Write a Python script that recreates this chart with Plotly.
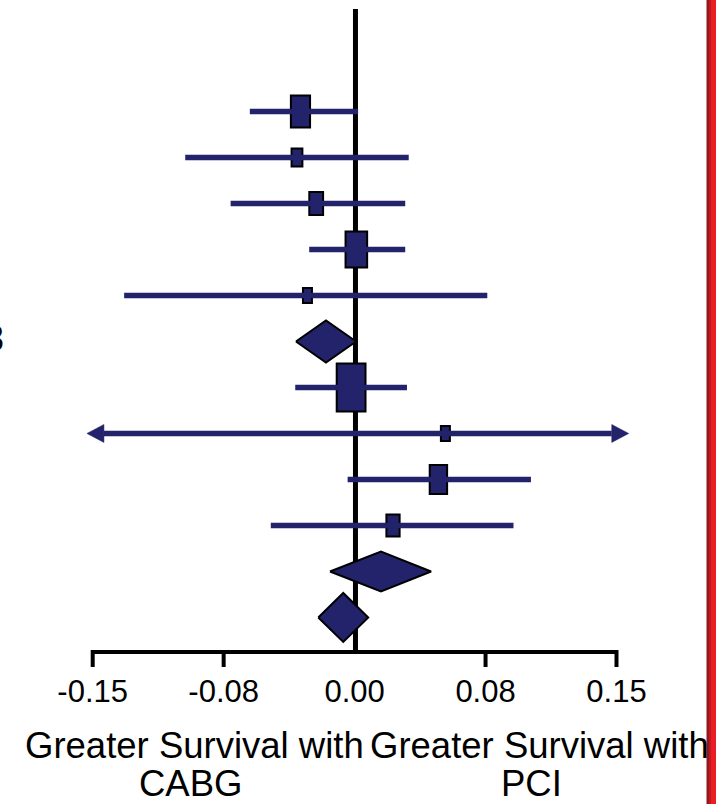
import plotly.graph_objects as go

# ---------------- data ----------------
# individual studies: risk difference in survival (PCI - CABG) with 95% CI
study_rows = [1, 2, 3, 4, 5, 7, 8, 9, 10]
study_est = [-0.031, -0.033, -0.022, 0.001, -0.027, -0.002, 0.052, 0.048, 0.022]
study_lo = [-0.060, -0.097, -0.071, -0.026, -0.132, -0.034, -0.180, -0.004, -0.048]
study_hi = [0.002, 0.031, 0.029, 0.029, 0.076, 0.030, 0.190, 0.101, 0.091]
study_weight = [14.1, 4.5, 7.3, 17.9, 3.1, 31.8, 3.1, 11.6, 6.7]  # % weight

# pooled estimates (diamonds)
pooled_rows = [6, 11, 12]
pooled_est = [-0.0164, 0.0151, -0.0065]
pooled_lo = [-0.0336, -0.0141, -0.0208]
pooled_hi = [0.0008, 0.0438, 0.0078]

tick_vals = [-0.15, -0.075, 0.0, 0.075, 0.15]
tick_text = ["-0.15", "-0.08", "0.00", "0.08", "0.15"]

label_left = ["Greater Survival with", "CABG"]
label_right = ["Greater Survival with", "PCI"]
edge_label = "3"

# ---------------- geometry / style ----------------
W, H = 716, 804
PLOT_H = 652                       # plot area height in px (axis line at bottom)
X_ZERO_PX, X_PX_PER_UNIT = 354.6, 1746.0
ROW0_PX, ROW_PX = 65.46, 46.0      # pixel = ROW0_PX + ROW_PX * row
DISPLAY_LIM = (-0.1533, 0.157)     # CIs beyond this are drawn as arrows

NAVY = "#23236b"
FONT = "Liberation Sans, Arial, sans-serif"

dx = 1.0 / X_PX_PER_UNIT           # data units per px (x)
dy = 1.0 / ROW_PX                  # rows per px (y)
x_range = [(0 - X_ZERO_PX) * dx, (W - X_ZERO_PX) * dx]
y_range = [(PLOT_H - ROW0_PX) / ROW_PX, (0 - ROW0_PX) / ROW_PX]


def ypaper(px):
    return 1 - px / PLOT_H


fig = go.Figure()

# confidence interval lines (clipped to the display window)
cx, cy = [], []
arrows = []
ARROW_LEN = 17 * dx
for r, lo, hi in zip(study_rows, study_lo, study_hi):
    a, b = lo, hi
    if lo < DISPLAY_LIM[0]:
        a = DISPLAY_LIM[0] + ARROW_LEN
        arrows.append((DISPLAY_LIM[0], a, r))
    if hi > DISPLAY_LIM[1]:
        b = DISPLAY_LIM[1] - ARROW_LEN
        arrows.append((DISPLAY_LIM[1], b, r))
    cx += [a, b, None]
    cy += [r, r, None]
fig.add_trace(go.Scatter(x=cx, y=cy, mode="lines",
                         line=dict(color=NAVY, width=5.5), hoverinfo="skip"))

# arrowheads for truncated intervals
for tip, base, r in arrows:
    hh = 9 * dy
    fig.add_trace(go.Scatter(x=[tip, base, base, tip], y=[r, r - hh, r + hh, r],
                             mode="lines", fill="toself", fillcolor=NAVY,
                             line=dict(color=NAVY, width=0.5), hoverinfo="skip"))

# study boxes sized by weight
w_max = max(study_weight)
box_h_px = [48 * (w / w_max) ** 0.5 for w in study_weight]
box_w = [0.6 * h * dx for h in box_h_px]
box_h = [h * dy for h in box_h_px]
fig.add_trace(go.Bar(
    y=study_rows, x=box_w, base=[e - bw / 2 for e, bw in zip(study_est, box_w)],
    width=box_h, orientation="h",
    marker=dict(color=NAVY, line=dict(color="black", width=2)),
    hoverinfo="skip"))

# pooled diamonds
diamond_half = [21, 20, 24.5]
for r, e, lo, hi, hp in zip(pooled_rows, pooled_est, pooled_lo, pooled_hi, diamond_half):
    h = hp * dy
    fig.add_trace(go.Scatter(x=[lo, e, hi, e, lo], y=[r, r - h, r, r + h, r],
                             mode="lines", fill="toself", fillcolor=NAVY,
                             line=dict(color="black", width=2), hoverinfo="skip"))

shapes = []
# line of no effect
shapes.append(dict(type="line", xref="x", yref="paper", x0=0.0005, x1=0.0005,
                   y0=0, y1=ypaper(9), line=dict(color="black", width=5), layer="below"))
# axis line and tick marks
shapes.append(dict(type="line", xref="x", yref="paper", x0=tick_vals[0], x1=tick_vals[-1],
                   y0=ypaper(652), y1=ypaper(652), line=dict(color="black", width=4)))
for tv in tick_vals:
    if tv != 0:
        shapes.append(dict(type="line", xref="x", yref="paper", x0=tv, x1=tv,
                           y0=ypaper(650), y1=ypaper(667), line=dict(color="black", width=4)))
# red edge bar
red_strips = [(706.5, 709.0, "#8e1a1c"), (709.0, 711.0, "#c4161c"), (711.0, 716.0, "#ea1c24")]
for x0, x1, c in red_strips:
    shapes.append(dict(type="rect", xref="paper", yref="paper", x0=x0 / W, x1=x1 / W,
                       y0=ypaper(H), y1=1, fillcolor=c, line=dict(width=0), layer="above"))

annotations = []
label_pos = {0: ((195, 745), (190, 783)), 1: ((539, 745), (531, 783))}
for side, lines in enumerate((label_left, label_right)):
    for (xpx, ypx), txt in zip(label_pos[side], lines):
        annotations.append(dict(text=txt, xref="paper", yref="paper", x=xpx / W,
                                y=ypaper(ypx), xanchor="center", yanchor="middle",
                                showarrow=False, font=dict(family=FONT, size=36.5, color="black")))
annotations.append(dict(text=edge_label, xref="paper", yref="paper", x=0, xshift=5.5,
                        y=ypaper(338.5), xanchor="right", yanchor="middle", showarrow=False,
                        font=dict(family=FONT, size=36, color="black")))

fig.update_layout(
    width=W, height=H, margin=dict(l=0, r=0, t=0, b=H - PLOT_H, pad=0),
    paper_bgcolor="white", plot_bgcolor="white", showlegend=False,
    shapes=shapes, annotations=annotations,
    xaxis=dict(range=x_range, tickvals=tick_vals, ticktext=tick_text,
               ticks="outside", ticklen=12, tickcolor="rgba(0,0,0,0)",
               showline=False, showgrid=False, zeroline=False, fixedrange=True,
               tickfont=dict(family=FONT, size=31, color="black")),
    yaxis=dict(range=y_range, visible=False, showgrid=False, zeroline=False, fixedrange=True),
)

fig.write_html("out.html", config={"displayModeBar": False})
